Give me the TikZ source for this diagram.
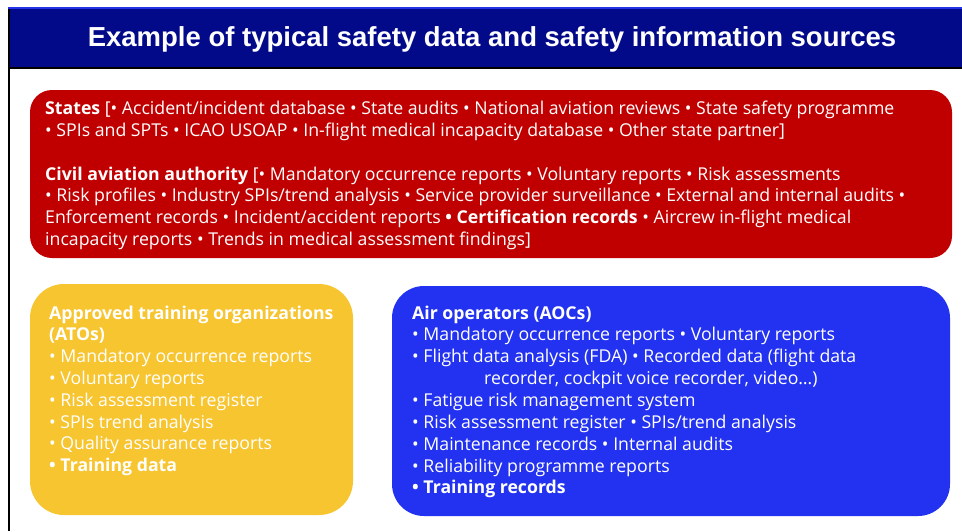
\documentclass[tikz,border=0pt]{standalone}
\usepackage{fontspec}
\setmainfont{Open Sans}
\newfontfamily\titlefont{Liberation Sans}
\definecolor{navy}{RGB}{2,10,138}
\definecolor{topblue}{RGB}{35,50,230}
\definecolor{redbox}{RGB}{192,0,0}
\definecolor{yellowbox}{RGB}{247,197,48}
\definecolor{bluebox}{RGB}{34,50,240}
\tikzset{
  panel/.style={inner sep=0pt, outer sep=0pt},
  txt/.style={anchor=base west, inner sep=0pt, text=white, font=\fontsize{17.7}{21}\selectfont},
}
\begin{document}
\begin{tikzpicture}[x=1pt,y=-1pt]
\useasboundingbox (0,0) rectangle (962,531);
\fill[white] (0,0) rectangle (962,531);
% header
\fill[navy] (8,8) rectangle (962,67);
\fill[topblue] (8,6.5) rectangle (962,8.5);
\fill[black] (8,67) rectangle (962,69);
\fill[black] (7.5,9) rectangle (9.5,531);
\node[anchor=base, inner sep=0pt, text=white, font=\titlefont\bfseries\fontsize{27.5}{30}\selectfont] (title) at (492,46) {Example of typical safety data and safety information sources};
% boxes
\node[panel, fill=redbox, rounded corners=22pt, minimum width=922pt, minimum height=168pt] (red) at (491,174) {};
\node[panel, fill=yellowbox, rounded corners=34pt, minimum width=323pt, minimum height=231pt] (yellow) at (191.5,399.5) {};
\node[panel, fill=bluebox, rounded corners=32pt, minimum width=558pt, minimum height=230pt] (blue) at (671,401) {};
% red text
\node[txt] (r1) at (45,114.3) {\textbf{States} [• Accident/incident database • State audits • National aviation reviews • State safety programme};
\node[txt] (r2) at (45,136.6) {• SPIs and SPTs • ICAO USOAP • In-flight medical incapacity database • Other state partner]};
\node[txt] (r3) at (45,180) {\textbf{Civil aviation authority} [• Mandatory occurrence reports • Voluntary reports • Risk assessments};
\node[txt] (r4) at (45,201.7) {• Risk profiles • Industry SPIs/trend analysis • Service provider surveillance • External and internal audits •};
\node[txt] (r5) at (45,223.4) {Enforcement records • Incident/accident reports \textbf{• Certification records} • Aircrew in-flight medical};
\node[txt] (r6) at (45,245) {incapacity reports • Trends in medical assessment findings]};
% yellow text
\node[txt] (y1) at (49,319) {\textbf{Approved training organizations}};
\node[txt] (y2) at (49,340.8) {\textbf{(ATOs)}};
\node[txt] (y3) at (49,362.6) {• Mandatory occurrence reports};
\node[txt] (y4) at (49,384.4) {• Voluntary reports};
\node[txt] (y5) at (49,406.2) {• Risk assessment register};
\node[txt] (y6) at (49,428) {• SPIs trend analysis};
\node[txt] (y7) at (49,449.8) {• Quality assurance reports};
\node[txt] (y8) at (49,471.6) {\textbf{• Training data}};
% blue text
\node[txt] (b1) at (412,319) {\textbf{Air operators (AOCs)}};
\node[txt] (b2) at (412,340.9) {• Mandatory occurrence reports • Voluntary reports};
\node[txt] (b3) at (412,362.7) {• Flight data analysis (FDA) • Recorded data (flight data};
\node[txt] (b4) at (484,384.6) {recorder, cockpit voice recorder, video…)};
\node[txt] (b5) at (412,406.4) {• Fatigue risk management system};
\node[txt] (b6) at (412,428.3) {• Risk assessment register • SPIs/trend analysis};
\node[txt] (b7) at (412,450.1) {• Maintenance records • Internal audits};
\node[txt] (b8) at (412,472) {• Reliability programme reports};
\node[txt] (b9) at (412,493.8) {\textbf{• Training records}};
\end{tikzpicture}
\end{document}
